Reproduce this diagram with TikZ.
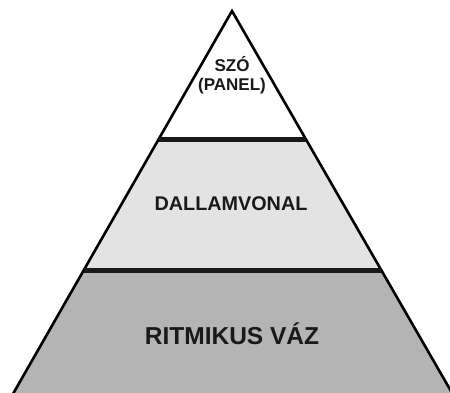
\documentclass[tikz,border=0pt]{standalone}
\usepackage{fontspec}
\setmainfont{Liberation Sans}
\usetikzlibrary{calc}
\definecolor{midgray}{HTML}{E3E3E3}
\definecolor{lowgray}{HTML}{B4B4B4}
\tikzset{
    every node/.style={font=\bfseries,text=black!90,align=center},
    edge/.style={draw=black,line width=2.6pt,line join=miter},
    divider/.style={draw=black!90,line width=5pt},
    toplabel/.style={font=\fontsize{17}{19}\selectfont\bfseries},
    midlabel/.style={font=\fontsize{19.8}{21}\selectfont\bfseries},
    lowlabel/.style={font=\fontsize{24.5}{26}\selectfont\bfseries}
}
\begin{document}
\begin{tikzpicture}[x=1pt,y=-1pt]
    \useasboundingbox (0,0) rectangle (450,393);
    % pyramid corners
    \coordinate (apex) at (232,11);
    \coordinate (bl) at (11.8,396);
    \coordinate (br) at (453.8,396);
    % level borders
    \coordinate (ul) at ($(apex)!0.3325!(bl)$);
    \coordinate (ur) at ($(apex)!0.3325!(br)$);
    \coordinate (ll) at ($(apex)!0.673!(bl)$);
    \coordinate (lr) at ($(apex)!0.673!(br)$);
    % levels
    \fill[white] (apex) -- (ul) -- (ur) -- cycle;
    \fill[midgray] (ul) -- (ll) -- (lr) -- (ur) -- cycle;
    \fill[lowgray] (ll) -- (bl) -- (br) -- (lr) -- cycle;
    \draw[edge] (bl) -- (apex) -- (br);
    \draw[divider] (ul) -- (ur);
    \draw[divider] (ll) -- (lr);
    % texts
    \node[toplabel] (word) at (232,75) {SZÓ\\(PANEL)};
    \node[midlabel] (melody) at (231,204) {DALLAMVONAL};
    \node[lowlabel] (rhythm) at (232,334) {RITMIKUS VÁZ};
\end{tikzpicture}
\end{document}
